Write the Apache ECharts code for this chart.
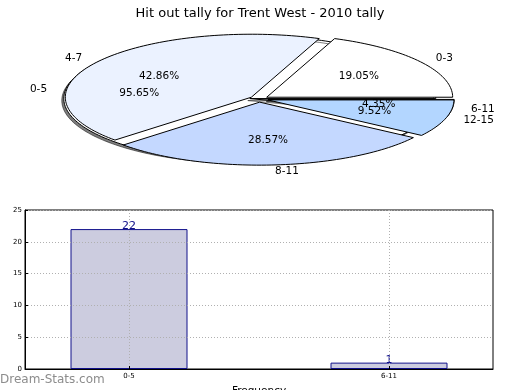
<!DOCTYPE html>
<html>
<head>
<meta charset="utf-8">
<script src="https://cdn.jsdelivr.net/npm/echarts@6/dist/echarts.min.js"></script>
<style>html,body{margin:0;padding:0;background:#fff}#c{width:520px;height:390px}</style>
</head>
<body>
<div id="c"></div>
<script>
// ---- data ----
const titleText = 'Hit out tally for Trent West - 2010 tally';
const pieCatsA = ['0-5', '6-11'];
const pieValsA = [22, 1];
const pieCatsB = ['0-3', '4-7', '8-11', '12-15'];
const pieValsB = [4, 9, 6, 2];
const barCats = ['0-5', '6-11'];
const barVals = [22, 1];
const yTicks = [0, 5, 10, 15, 20, 25];

// ---- layout / style ----
const FONT = '"DejaVu Sans", sans-serif';
const PIE = { cx: 259, cy: 99, rx: 186, ry: 63, explode: 0.05 };
const colorsA = ['#ffffff', '#eaf1ff'];
const colorsB = ['#ffffff', '#ebf2ff', '#c4d8ff', '#b3d6ff'];

function pieSeries(cats, vals, colors, withShadow) {
  const total = vals.reduce((a, b) => a + b, 0);
  return {
    type: 'custom',
    coordinateSystem: 'none',
    silent: true,
    data: vals.map((v, i) => [v, i]),
    renderItem: function (params, api) {
      const i = params.dataIndex;
      let before = 0;
      for (let k = 0; k < i; k++) before += vals[k];
      const a1 = before / total * 2 * Math.PI;
      const a2 = (before + vals[i]) / total * 2 * Math.PI;
      const am = (a1 + a2) / 2;
      const ox = PIE.cx + PIE.explode * PIE.rx * Math.cos(am);
      const oy = PIE.cy - PIE.explode * PIE.ry * Math.sin(am);
      const pts = [[ox, oy]];
      const n = Math.max(2, Math.ceil((a2 - a1) / (Math.PI / 120)));
      for (let k = 0; k <= n; k++) {
        const a = a1 + (a2 - a1) * k / n;
        pts.push([ox + PIE.rx * Math.cos(a), oy - PIE.ry * Math.sin(a)]);
      }
      const lx = ox + 1.1 * PIE.rx * Math.cos(am);
      const ly = oy - 1.1 * PIE.ry * Math.sin(am);
      const px = ox + 0.6 * PIE.rx * Math.cos(am);
      const py = oy - 0.6 * PIE.ry * Math.sin(am);
      const pct = (vals[i] / total * 100).toFixed(2) + '%';
      const style = { fill: colors[i], stroke: '#000', lineWidth: 1 };
      if (withShadow) {
        style.shadowColor = 'rgba(0,0,0,0.5)';
        style.shadowOffsetX = -2;
        style.shadowOffsetY = 2;
        style.shadowBlur = 0.01;
      }
      return {
        type: 'group',
        children: [
          { type: 'polygon', shape: { points: pts }, style: style },
          { type: 'text', z2: 100, style: { text: cats[i], x: lx, y: ly,
              align: Math.cos(am) > 0 ? 'left' : 'right', verticalAlign: 'middle',
              font: '10.5px ' + FONT, fill: '#000' } },
          { type: 'text', z2: 100, style: { text: pct, x: px, y: py,
              align: 'center', verticalAlign: 'middle',
              font: '10.5px ' + FONT, fill: '#000' } }
        ]
      };
    }
  };
}

const chart = echarts.init(document.getElementById('c'), null, { renderer: 'canvas' });
chart.setOption({
  animation: false,
  backgroundColor: '#fff',
  textStyle: { fontFamily: FONT },
  title: {
    text: titleText, left: 'center', top: 2,
    textStyle: { fontFamily: FONT, fontSize: 13, fontWeight: 'normal', color: '#000' }
  },
  graphic: [{
    type: 'text', left: 0, top: 374,
    style: { text: 'Dream-Stats.com', font: '12px ' + FONT, fill: '#8c8c8c' }
  }],
  grid: {
    left: 25, right: 27, top: 210, bottom: 21,
    containLabel: false, outerBoundsMode: 'none',
    show: true, borderColor: '#000', borderWidth: 1, backgroundColor: 'transparent'
  },
  xAxis: {
    type: 'value', min: -0.4, max: 1.4, z: 5,
    name: 'Frequency', nameLocation: 'middle', nameGap: 17,
    nameTextStyle: { fontFamily: FONT, fontSize: 10.5, color: '#000' },
    axisLine: { show: true, onZero: false, lineStyle: { color: '#000' } },
    axisTick: { show: true, inside: true, length: 3, customValues: [0, 1], lineStyle: { color: '#000' } },
    axisLabel: { customValues: [0, 1], formatter: v => barCats[Math.round(v)] || '',
      fontFamily: FONT, fontSize: 7, color: '#000', margin: 4 },
    splitLine: { show: true, lineStyle: { color: '#b0b0b0', type: [1, 2] } }
  },
  yAxis: {
    type: 'value', min: yTicks[0], max: yTicks[yTicks.length - 1], interval: yTicks[1] - yTicks[0], z: 5,
    name: 'Stat Intervals', nameLocation: 'middle', nameGap: 15,
    nameTextStyle: { fontFamily: FONT, fontSize: 10.5, color: '#000' },
    axisLine: { show: true, onZero: false, lineStyle: { color: '#000' } },
    axisTick: { show: true, inside: true, length: 3, lineStyle: { color: '#000' } },
    axisLabel: { fontFamily: FONT, fontSize: 7, color: '#000', margin: 3 },
    splitLine: { show: true, lineStyle: { color: '#b0b0b0', type: [1, 2] } }
  },
  series: [
    pieSeries(pieCatsA, pieValsA, colorsA, true),
    pieSeries(pieCatsB, pieValsB, colorsB, false),
    {
      type: 'bar',
      data: barVals.map((v, i) => [i, v]),
      barWidth: 117,
      itemStyle: { color: '#ccccdf', borderColor: '#10108a', borderWidth: 1 },
      label: { show: true, position: 'top', distance: -3, color: '#10108a',
        fontFamily: FONT, fontSize: 11 }
    }
  ]
});
</script>
</body>
</html>
